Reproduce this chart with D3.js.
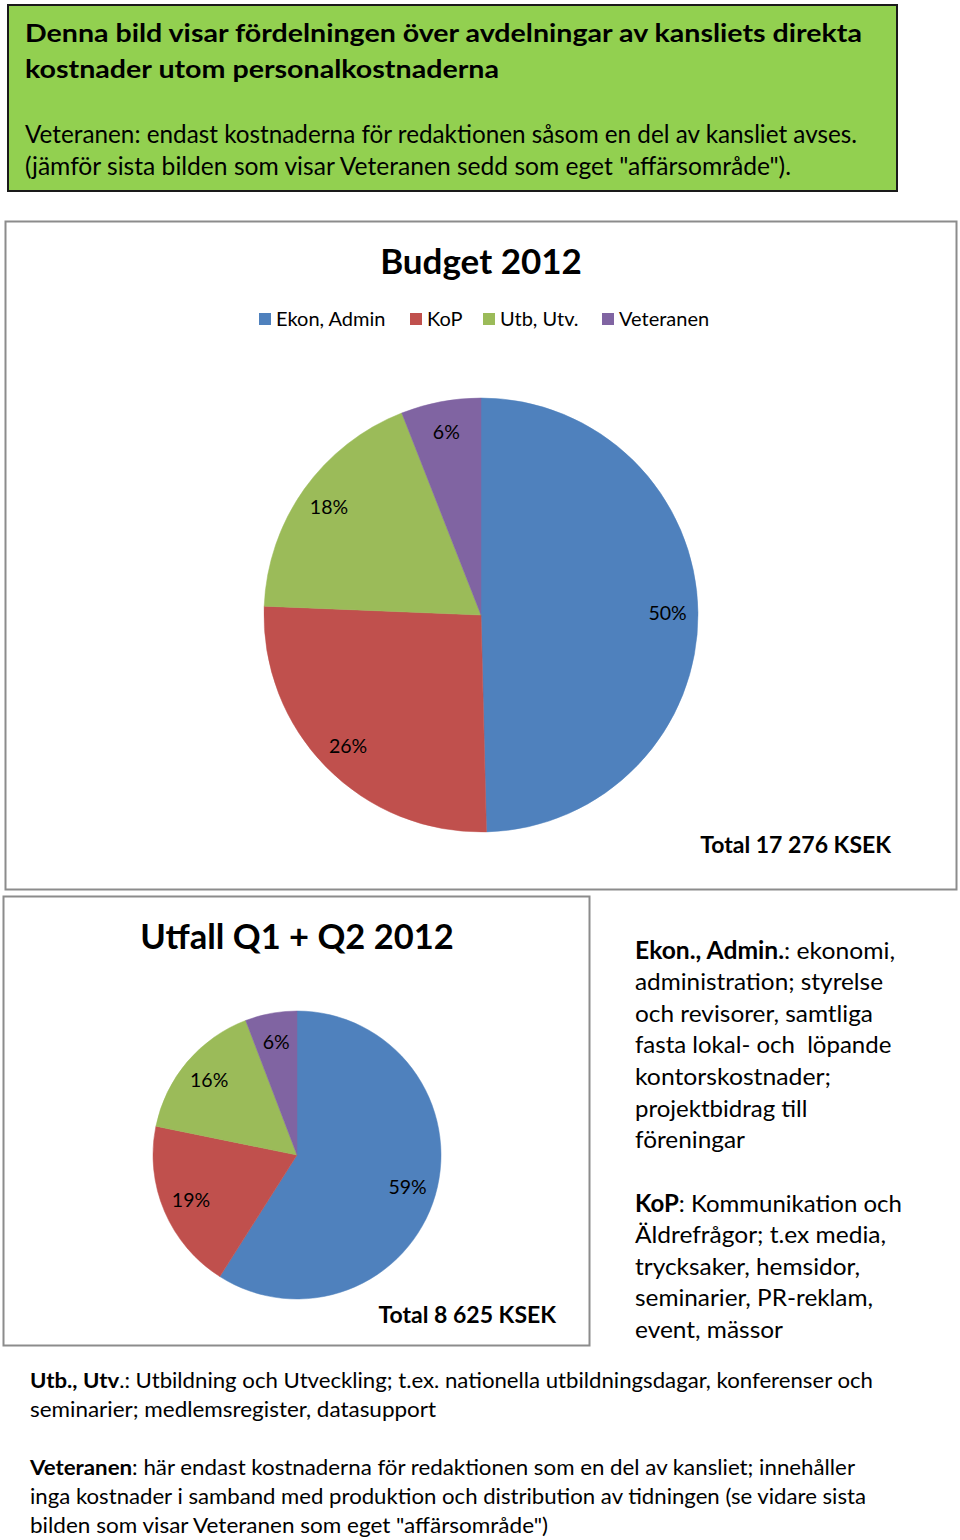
<!DOCTYPE html>
<html><head><meta charset="utf-8">
<script src="https://cdn.jsdelivr.net/npm/d3@7"></script>
<style>body{margin:0;background:#fff}svg{display:block}text{font-family:Lato,"Open Sans",sans-serif;fill:#000}</style>
</head><body><svg id="c" width="960" height="1540"></svg>
<script>
// ---- data ----
const categories = ["Ekon, Admin", "KoP", "Utb, Utv.", "Veteranen"];
const budgetValues = [49.6, 26.05, 18.4, 5.95];
const utfallValues = [59.0, 19.2, 16.0, 5.8];
const budgetTitle = "Budget 2012";
const utfallTitle = "Utfall Q1 + Q2 2012";
const budgetTotal = "Total 17 276 KSEK";
const utfallTotal = "Total 8 625 KSEK";
const colors = ["#4f81bd", "#c0504d", "#9bbb59", "#8064a2"];
const headerLines = [
  [["Denna bild visar fördelningen över avdelningar av kansliets direkta", true]],
  [["kostnader utom personalkostnaderna", true]],
  [["Veteranen: endast kostnaderna för redaktionen såsom en del av kansliet avses.", false]],
  [["(jämför sista bilden som visar Veteranen sedd som eget \"affärsområde\").", false]]
];
const sideLines = [
  [["Ekon., Admin.", true], [": ekonomi,", false]],
  [["administration; styrelse", false]],
  [["och revisorer, samtliga", false]],
  [["fasta lokal- och  löpande", false]],
  [["kontorskostnader;", false]],
  [["projektbidrag till", false]],
  [["föreningar", false]],
  [["KoP", true], [": Kommunikation och", false]],
  [["Äldrefrågor; t.ex media,", false]],
  [["trycksaker, hemsidor,", false]],
  [["seminarier, PR-reklam,", false]],
  [["event, mässor", false]]
];
const footLines = [
  [["Utb., Utv", true], [".: Utbildning och Utveckling; t.ex. nationella utbildningsdagar, konferenser och", false]],
  [["seminarier; medlemsregister, datasupport", false]],
  [["Veteranen", true], [": här endast kostnaderna för redaktionen som en del av kansliet; innehåller", false]],
  [["inga kostnader i samband med produktion och distribution av tidningen (se vidare sista", false]],
  [["bilden som visar Veteranen som eget \"affärsområde\")", false]]
];

// ---- layout ----
const svg = d3.select("#c");
const color = d3.scaleOrdinal().domain(categories).range(colors);

function richLine(g, runs, x, y, size, width) {
  const t = g.append("text").attr("x", x).attr("y", y).attr("font-size", size)
    .attr("xml:space", "preserve");
  runs.forEach(([s, b]) => t.append("tspan").attr("font-weight", b ? "bold" : "normal").text(s));
  if (width) {
    const w = t.node().getComputedTextLength();
    if (Math.abs(w - width) / width > 0.01) t.attr("textLength", width).attr("lengthAdjust", "spacingAndGlyphs");
  }
  return t;
}

// header box
const hdr = svg.append("g");
hdr.append("rect").attr("x", 8).attr("y", 5).attr("width", 889).attr("height", 186)
  .attr("fill", "#92d050").attr("stroke", "#1a1a1a").attr("stroke-width", 2);
const hdrY = [42, 78, 143, 175], hdrW = [837, 474, 832, 766];
headerLines.forEach((r, i) => richLine(hdr, r, 25, hdrY[i], 25, hdrW[i]));

// chart frames
svg.append("rect").attr("x", 5.5).attr("y", 221.5).attr("width", 951).attr("height", 668)
  .attr("fill", "#fff").attr("stroke", "#8c8c8c").attr("stroke-width", 2);
svg.append("rect").attr("x", 3.5).attr("y", 896.5).attr("width", 586).attr("height", 449)
  .attr("fill", "#fff").attr("stroke", "#8c8c8c").attr("stroke-width", 2);

function drawPie(values, cx, cy, r, labelRatio) {
  const g = svg.append("g").attr("transform", `translate(${cx},${cy})`);
  const data = values.map((v, i) => ({cat: categories[i], v}));
  const arcs = d3.pie().sort(null).value(d => d.v)(data);
  const arc = d3.arc().innerRadius(0).outerRadius(r);
  const labelArc = d3.arc().innerRadius(r * labelRatio).outerRadius(r * labelRatio);
  const total = d3.sum(values);
  g.selectAll("path").data(arcs).join("path").attr("d", arc)
    .attr("fill", d => color(d.data.cat)).attr("stroke", d => color(d.data.cat)).attr("stroke-width", 0.5);
  g.selectAll("text.lbl").data(arcs).join("text").attr("class", "lbl")
    .attr("transform", d => `translate(${labelArc.centroid(d)})`)
    .attr("text-anchor", "middle").attr("dy", "0.36em").attr("font-size", 19.5)
    .text(d => d3.format(".0%")(d.data.v / total));
}

// Budget chart
svg.append("text").attr("x", 481).attr("y", 274).attr("text-anchor", "middle")
  .attr("font-size", 35).attr("font-weight", "bold").text(budgetTitle);
const legX = [259, 410, 483, 602];
const leg = svg.append("g");
categories.forEach((c, i) => {
  leg.append("rect").attr("x", legX[i]).attr("y", 313).attr("width", 12).attr("height", 12).attr("fill", color(c));
  leg.append("text").attr("x", legX[i] + 17).attr("y", 326).attr("font-size", 20).text(c);
});
drawPie(budgetValues, 481, 615, 217, 0.86);
svg.append("text").attr("x", 891).attr("y", 853).attr("text-anchor", "end")
  .attr("font-size", 23).attr("font-weight", "bold").text(budgetTotal);

// Utfall chart
svg.append("text").attr("x", 297).attr("y", 949).attr("text-anchor", "middle")
  .attr("font-size", 34.5).attr("font-weight", "bold").text(utfallTitle);
drawPie(utfallValues, 297, 1155, 144, 0.8);
svg.append("text").attr("x", 556).attr("y", 1323).attr("text-anchor", "end")
  .attr("font-size", 23).attr("font-weight", "bold").text(utfallTotal);

// side text
const side = svg.append("g");
const sideY = [959, 990, 1022, 1053, 1085, 1117, 1148, 1212, 1243, 1275, 1306, 1338];
const sideW = [260, 248, 238, 255, 196, 174, 110, 265, 251, 225, 238, 148];
sideLines.forEach((r, i) => richLine(side, r, 635, sideY[i], 24, sideW[i]));

// footer text
const foot = svg.append("g");
const footY = [1388, 1417, 1475, 1504, 1533], footW = [843, 406, 825, 836, 518];
footLines.forEach((r, i) => richLine(foot, r, 30, footY[i], 21, footW[i]));
</script></body></html>
